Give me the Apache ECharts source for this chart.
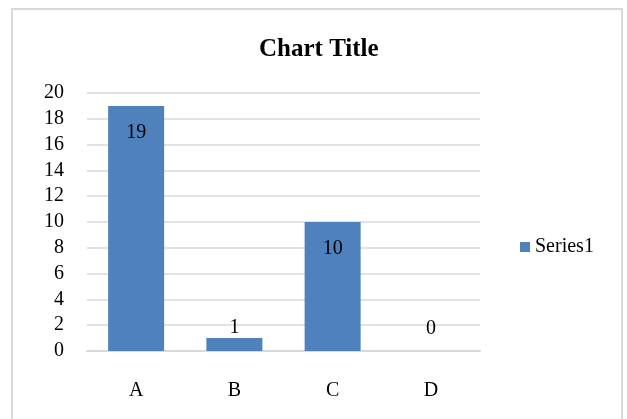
<!DOCTYPE html>
<html>
<head>
<meta charset="utf-8">
<style>
  html, body { margin: 0; padding: 0; background: #ffffff; }
  #chart { width: 627px; height: 419px; }
</style>
<script src="https://cdn.jsdelivr.net/npm/echarts@6/dist/echarts.min.js"></script>
</head>
<body>
<div id="chart"></div>
<script>
// Chart data
const categories = ['A', 'B', 'C', 'D'];
const series1Values = [19, 1, 10, 0];
const yTicks = { min: 0, max: 20, interval: 2 };

const serif = '"Liberation Serif", "Times New Roman", Times, serif';

// Labels sit inside tall bars, and above short ones
function labelFor(v) {
  if (v >= 5) {
    return { position: 'insideTop', distance: 17 };
  }
  return { position: 'top', distance: v > 0 ? 0 : 12 };
}

const chart = echarts.init(document.getElementById('chart'), null, { renderer: 'canvas' });

chart.setOption({
  backgroundColor: '#ffffff',
  animation: false,
  graphic: [{
    type: 'rect',
    shape: { x: 12, y: 9, width: 610, height: 430 },
    style: { fill: 'none', stroke: '#d9d9d9', lineWidth: 2 },
    silent: true
  }],
  title: {
    text: 'Chart Title',
    left: 254,
    top: 32,
    textStyle: { fontFamily: serif, fontSize: 25, fontWeight: 'bold', color: '#000000' }
  },
  legend: {
    data: ['Series1'],
    orient: 'vertical',
    left: 515,
    top: 232,
    itemWidth: 10,
    itemHeight: 10,
    itemGap: 4,
    icon: 'rect',
    textStyle: { fontFamily: serif, fontSize: 20, color: '#000000' }
  },
  grid: { left: 87, right: 147, top: 93, bottom: 68, containLabel: false },
  xAxis: {
    type: 'category',
    data: categories,
    axisTick: { show: false },
    axisLine: { show: true, lineStyle: { color: '#d9d9d9', width: 2 } },
    axisLabel: { fontFamily: serif, fontSize: 20, color: '#000000', margin: 30 }
  },
  yAxis: {
    type: 'value',
    min: yTicks.min,
    max: yTicks.max,
    interval: yTicks.interval,
    axisLine: { show: false },
    axisTick: { show: false },
    splitLine: { lineStyle: { color: '#d9d9d9', width: 1.5 } },
    axisLabel: { fontFamily: serif, fontSize: 20, color: '#000000', margin: 23, padding: [5, 0, 0, 0] }
  },
  series: [{
    name: 'Series1',
    type: 'bar',
    barWidth: '57%',
    itemStyle: { color: '#4f81bd' },
    data: series1Values.map(v => ({ value: v, label: labelFor(v) })),
    label: {
      show: true,
      fontFamily: serif,
      fontSize: 20,
      color: '#000000'
    }
  }]
});
</script>
</body>
</html>
